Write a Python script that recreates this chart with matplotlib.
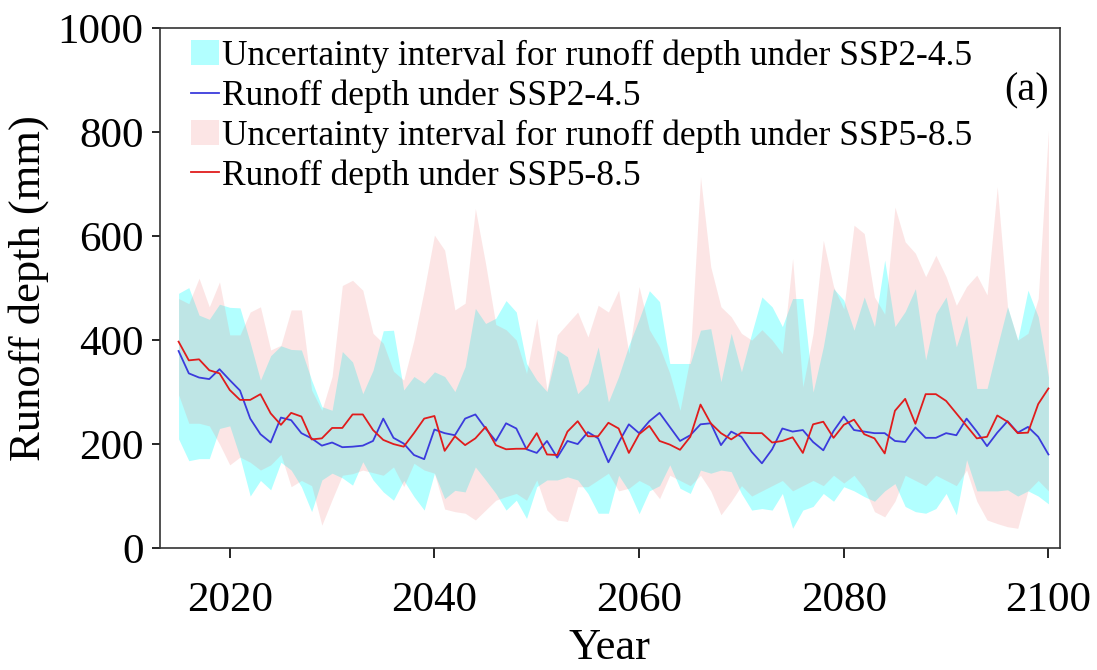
import numpy as np
import matplotlib
matplotlib.use('Agg')
import matplotlib.pyplot as plt

plt.rcParams['font.family'] = ['Liberation Serif', 'DejaVu Serif']

years = list(range(2015, 2101))

# SSP2-4.5 runoff depth (mm) and its uncertainty interval
ssp245_mean = [379, 336, 328, 325, 344, 323, 303, 249, 219, 203, 251, 246, 221, 211, 197, 203, 194, 195, 197, 206, 249, 212,
               201, 179, 171, 228, 221, 217, 249, 257, 230, 206, 240, 230, 190, 183, 206, 174, 206, 200, 223, 211, 165,
               203, 238, 221, 244, 260, 233, 206, 217, 238, 240, 198, 224, 214, 185, 163, 190, 230, 224, 227, 204, 188, 225,
               253, 227, 224, 221, 221, 206, 204, 232, 212, 212, 221, 217, 249, 224, 196, 222, 244, 222, 233, 214, 180]
ssp245_upper = [490, 501, 448, 440, 469, 463, 462, 395, 323, 370, 389, 382, 381, 323, 272, 265, 378, 358, 297, 342, 418, 419,
                304, 330, 317, 339, 330, 301, 349, 461, 432, 442, 476, 454, 355, 323, 301, 381, 368, 297, 317, 387, 281,
                330, 390, 440, 495, 474, 355, 355, 355, 419, 422, 320, 413, 339, 413, 483, 464, 426, 480, 480, 300, 387, 499,
                477, 419, 483, 426, 554, 426, 455, 499, 362, 451, 483, 387, 448, 307, 307, 387, 464, 400, 496, 445, 329]
ssp245_lower = [210, 168, 172, 172, 230, 235, 175, 100, 130, 112, 165, 150, 118, 70, 131, 144, 135, 121, 166, 131, 108, 92,
                130, 99, 73, 144, 95, 111, 108, 156, 131, 105, 73, 92, 57, 118, 131, 131, 137, 131, 105, 67, 67,
                140, 110, 66, 110, 120, 160, 115, 105, 150, 144, 150, 147, 105, 73, 76, 73, 105, 38, 73, 80, 105, 90,
                118, 110, 99, 90, 110, 124, 80, 70, 67, 76, 105, 64, 170, 110, 110, 110, 112, 100, 110, 100, 85]

# SSP5-8.5 runoff depth (mm) and its uncertainty interval
ssp585_mean = [397, 361, 363, 342, 336, 304, 285, 285, 296, 259, 237, 260, 253, 209, 211, 231, 231, 257, 257, 227, 208, 200,
               195, 221, 249, 254, 187, 215, 198, 211, 233, 198, 190, 191, 191, 221, 180, 179, 224, 244, 215, 215, 241,
               230, 183, 219, 235, 206, 199, 189, 214, 276, 240, 221, 209, 222, 221, 221, 203, 206, 213, 183, 238, 243, 212,
               237, 247, 219, 211, 182, 264, 287, 239, 296, 296, 283, 259, 235, 211, 214, 255, 243, 221, 222, 277, 307]
ssp585_upper = [480, 470, 519, 464, 512, 410, 410, 454, 464, 381, 390, 458, 458, 304, 265, 330, 505, 515, 496, 413, 394, 340,
                323, 400, 496, 602, 573, 458, 471, 653, 547, 430, 420, 400, 336, 442, 304, 410, 432, 454, 406, 467, 454,
                496, 374, 503, 420, 387, 336, 265, 368, 714, 541, 464, 445, 413, 400, 420, 400, 374, 557, 310, 413, 592, 503,
                460, 621, 605, 483, 450, 656, 589, 567, 522, 563, 522, 467, 503, 525, 487, 695, 464, 400, 413, 480, 804]
ssp585_lower = [295, 240, 240, 235, 200, 160, 175, 165, 150, 160, 180, 118, 130, 120, 44, 93, 140, 143, 150, 145, 140, 156,
                118, 163, 150, 144, 75, 70, 67, 54, 73, 92, 99, 105, 92, 131, 73, 54, 51, 118, 118, 131, 144,
                110, 115, 130, 120, 95, 140, 130, 120, 140, 110, 64, 90, 120, 100, 110, 120, 130, 110, 120, 130, 120, 140,
                125, 140, 115, 70, 60, 90, 140, 130, 120, 140, 130, 120, 150, 90, 54, 47, 41, 38, 110, 130, 110]

x_ticks = [2020, 2040, 2060, 2080, 2100]
y_ticks = [0, 200, 400, 600, 800, 1000]

fig = plt.figure(figsize=(10.97, 6.70), dpi=100)
ax = fig.add_axes([0.146, 0.182, 0.820, 0.776])

f1 = ax.fill_between(years, ssp245_lower, ssp245_upper, color='#00ffff', alpha=0.3, lw=0)
f2 = ax.fill_between(years, ssp585_lower, ssp585_upper, color='#f08080', alpha=0.2, lw=0)
l1, = ax.plot(years, ssp245_mean, color='#3b3bdc', lw=1.3)
l2, = ax.plot(years, ssp585_mean, color='#e01c1c', lw=1.3)

ax.set_xlim(2013.2, 2101.1)
ax.set_ylim(0, 1000)
ax.set_xticks(x_ticks)
ax.set_yticks(y_ticks)
ax.tick_params(axis='x', labelsize=31, length=7, width=1.2, pad=17)
ax.tick_params(axis='y', labelsize=31, length=6, width=1.2, pad=6)
for s in ax.spines.values():
    s.set_linewidth(1.2)
    s.set_color('#333333')

ax.set_xlabel('Year', fontsize=32, labelpad=6)
ax.set_ylabel('Runoff depth (mm)', fontsize=32, labelpad=6)

ax.legend([f1, l1, f2, l2],
          ['Uncertainty interval for runoff depth under SSP2-4.5',
           'Runoff depth under SSP2-4.5',
           'Uncertainty interval for runoff depth under SSP5-8.5',
           'Runoff depth under SSP5-8.5'],
          loc='upper left', bbox_to_anchor=(0.018, 1.005), frameon=False,
          fontsize=25.5, handlelength=0.8, handletextpad=0.1, labelspacing=0.18,
          borderaxespad=0.0)
ax.text(0.988, 0.88, '(a)', transform=ax.transAxes, ha='right', va='center', fontsize=29)

plt.savefig('out.png', dpi=100)
